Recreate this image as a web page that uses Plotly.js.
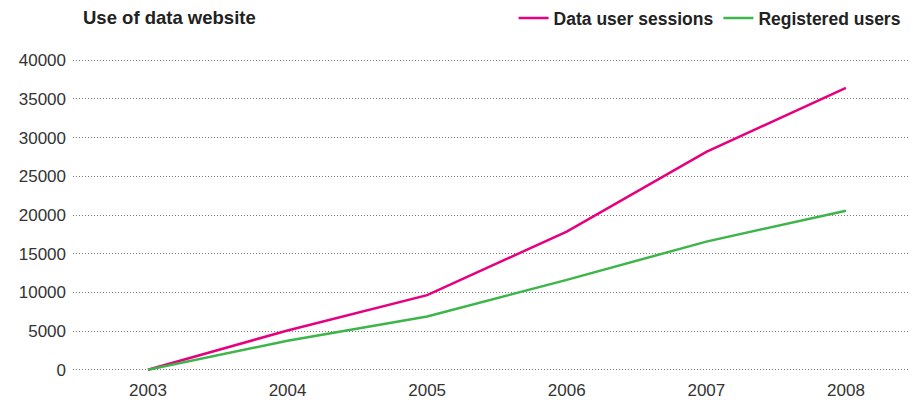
<!DOCTYPE html>
<html>
<head>
<meta charset="utf-8">
<script src="https://cdn.plot.ly/plotly-3.0.1.min.js"></script>
<style>html,body{margin:0;padding:0;background:#fff;}#chart{width:913px;height:400px;}</style>
</head>
<body>
<div id="chart"></div>
<script>
const years = [2003, 2004, 2005, 2006, 2007, 2008];
const sessions = [0, 5070, 9640, 17850, 28170, 36430];
const registered = [0, 3740, 6880, 11610, 16560, 20560];
const yTicks = [0, 5000, 10000, 15000, 20000, 25000, 30000, 35000, 40000];

const font = "'Liberation Sans', Arial, sans-serif";

const traces = [
  {x: years, y: sessions, name: 'Data user sessions', type: 'scatter', mode: 'lines',
   line: {color: '#e6007e', width: 2.5}},
  {x: years, y: registered, name: 'Registered users', type: 'scatter', mode: 'lines',
   line: {color: '#3db54a', width: 2.5}}
];

const layout = {
  width: 913, height: 400,
  margin: {l: 73, r: 3, t: 57.67, b: 27.67},
  paper_bgcolor: '#fff', plot_bgcolor: '#fff',
  font: {family: font, color: '#333', size: 17},
  title: {text: '<b>Use of data website</b>', x: 83/913, xref: 'container', xanchor: 'left',
          y: 1 - 18/400, yref: 'container', yanchor: 'middle',
          font: {family: font, size: 18.5, color: '#222'}},
  showlegend: true,
  legend: {orientation: 'h', xref: 'container', yref: 'container', x: 0.993, xanchor: 'right',
           y: 1 - 18/400, yanchor: 'middle', font: {family: font, size: 17.5, color: '#222', weight: 'bold'},
           itemwidth: 30, traceorder: 'normal', bgcolor: 'rgba(0,0,0,0)'},
  xaxis: {range: [2002.463, 2008.459], tickvals: years, ticktext: years.map(String),
          showgrid: false, zeroline: false, showline: false, ticks: '', automargin: false,
          ticklabelstandoff: 6,
          tickfont: {family: font, size: 17, color: '#333'}},
  yaxis: {range: [-300, 40300], tickvals: yTicks, ticktext: yTicks.map(String),
          showgrid: true, gridcolor: '#777', griddash: '1px,2px', gridwidth: 1,
          zeroline: false, showline: false, ticks: '', automargin: false,
          ticklabelstandoff: 6,
          tickfont: {family: font, size: 17, color: '#333'}}
};

Plotly.newPlot('chart', traces, layout, {displayModeBar: false, staticPlot: true});
</script>
</body>
</html>
